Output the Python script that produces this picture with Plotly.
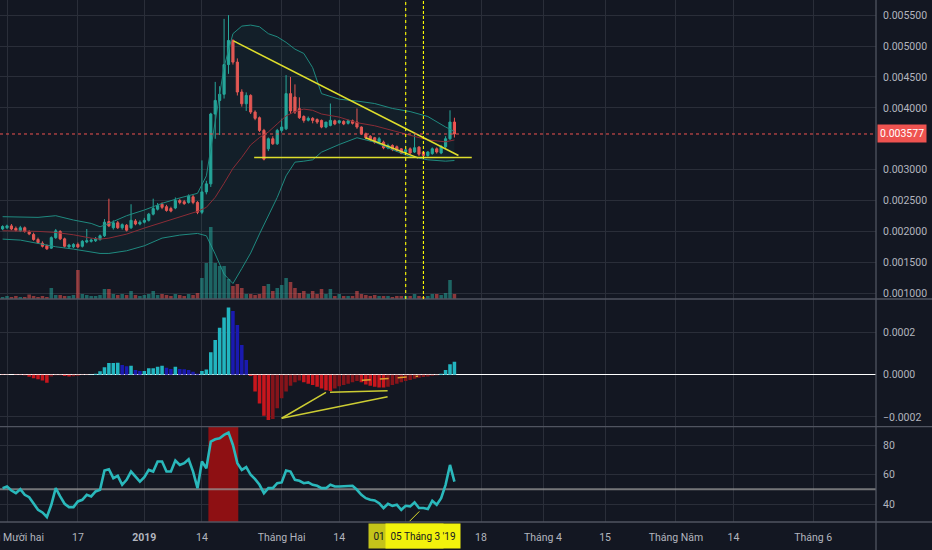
import pandas as pd
import plotly.graph_objects as go

# daily candles, 30 Nov 2018 .. 12 Mar 2019
start_day = "2018-11-30"
open_ = [0.00204, 0.00206, 0.00209, 0.00205, 0.00201, 0.00206, 0.00199, 0.00195, 0.00187, 0.00181,
         0.00177, 0.00173, 0.00190, 0.00200, 0.00188, 0.00175, 0.00175, 0.00179, 0.00176, 0.00183,
         0.00184, 0.00185, 0.00187, 0.00193, 0.00216, 0.00206, 0.00214, 0.00206, 0.00210, 0.00206,
         0.00217, 0.00212, 0.00215, 0.00218, 0.00228, 0.00236, 0.00244, 0.00240, 0.00237, 0.00238,
         0.00250, 0.00248, 0.00247, 0.00256, 0.00247, 0.00231, 0.00264, 0.00277, 0.00390, 0.00412,
         0.00422, 0.00470, 0.00509, 0.00474, 0.004256, 0.004066, 0.004201, 0.003932, 0.00384, 0.003635,
         0.003337, 0.0035, 0.003418, 0.003635, 0.00366, 0.00423, 0.004175, 0.003986, 0.00386, 0.0038,
         0.00383, 0.00381, 0.003797, 0.003689, 0.003716, 0.00379, 0.00376, 0.00378, 0.00375, 0.00379,
         0.00377, 0.003689, 0.003581, 0.00354, 0.003516, 0.003445, 0.003445, 0.003354, 0.003391, 0.00337,
         0.003337, 0.003285, 0.003337, 0.003285, 0.003365, 0.003285, 0.003229, 0.00326, 0.003337, 0.00327,
         0.00337, 0.0035, 0.00377]
high = [0.0021, 0.00211, 0.00212, 0.00208, 0.00209, 0.00208, 0.00202, 0.00198, 0.0019, 0.00184,
        0.00179, 0.00192, 0.00204, 0.00202, 0.0019, 0.0018, 0.00181, 0.00182, 0.00186, 0.00204,
        0.00189, 0.00191, 0.00195, 0.0022, 0.00253, 0.00218, 0.00217, 0.00213, 0.00212, 0.00244,
        0.0022, 0.00218, 0.00222, 0.0023, 0.00253, 0.00246, 0.00247, 0.00243, 0.0024, 0.00255,
        0.00253, 0.00251, 0.0026, 0.00259, 0.00249, 0.00315, 0.00282, 0.00392, 0.00442, 0.00435,
        0.00544, 0.0055, 0.00511, 0.0048, 0.0043, 0.00425, 0.00422, 0.00396, 0.00386, 0.00366,
        0.00352, 0.00354, 0.00366, 0.003825, 0.00453, 0.0045, 0.00438, 0.00417, 0.00388, 0.00386,
        0.00385, 0.00383, 0.00381, 0.00376, 0.00407, 0.00381, 0.0038, 0.0038, 0.00381, 0.00381,
        0.00399, 0.0037, 0.0036, 0.00356, 0.00353, 0.00353, 0.00347, 0.00342, 0.00341, 0.00339,
        0.00335, 0.00334, 0.00336, 0.00358, 0.00338, 0.0033, 0.0033, 0.00336, 0.00336, 0.0034,
        0.00354, 0.00396, 0.00384]
low = [0.00202, 0.00204, 0.00202, 0.002, 0.00199, 0.00198, 0.00194, 0.00185, 0.0018, 0.00174,
       0.0017, 0.00172, 0.00188, 0.00186, 0.00174, 0.00172, 0.00173, 0.00173, 0.00174, 0.00181,
       0.00182, 0.00183, 0.00185, 0.00191, 0.00207, 0.00203, 0.00204, 0.00203, 0.002, 0.00204,
       0.0021, 0.0021, 0.00213, 0.00216, 0.00226, 0.00234, 0.00236, 0.00232, 0.00231, 0.00236,
       0.00244, 0.00243, 0.00245, 0.00244, 0.00228, 0.00228, 0.0026, 0.00272, 0.0035, 0.00356,
       0.00415, 0.00455, 0.0047, 0.0042, 0.00402, 0.00395, 0.0039, 0.0038, 0.00361, 0.00315,
       0.0033, 0.0034, 0.0034, 0.0036, 0.00364, 0.0039, 0.0039, 0.00382, 0.00376, 0.00378,
       0.00375, 0.00374, 0.00367, 0.00367, 0.0037, 0.00372, 0.00374, 0.00372, 0.00373, 0.00373,
       0.00366, 0.00356, 0.00349, 0.00346, 0.00342, 0.00342, 0.00333, 0.00333, 0.0033, 0.00329,
       0.00325, 0.00326, 0.00325, 0.00327, 0.00322, 0.0032, 0.00321, 0.00324, 0.00326, 0.00325,
       0.00335, 0.00348, 0.00352]
close = [0.00208, 0.00209, 0.00204, 0.00202, 0.00206, 0.002, 0.00196, 0.00187, 0.00182, 0.00176,
         0.00172, 0.0019, 0.00201, 0.00188, 0.00176, 0.00178, 0.00179, 0.00175, 0.00184, 0.00185,
         0.00186, 0.00188, 0.00193, 0.00215, 0.00209, 0.00214, 0.00206, 0.00211, 0.00202, 0.00218,
         0.00212, 0.00215, 0.00218, 0.00228, 0.00237, 0.00242, 0.00239, 0.00234, 0.00233, 0.0025,
         0.00247, 0.00245, 0.00257, 0.00247, 0.00231, 0.00264, 0.00277, 0.0039, 0.00412, 0.00422,
         0.0047, 0.00509, 0.00474, 0.004256, 0.004066, 0.004201, 0.003932, 0.00383, 0.003635, 0.00317,
         0.0035, 0.003418, 0.003635, 0.003689, 0.00423, 0.00395, 0.003932, 0.003841, 0.003797, 0.00383,
         0.003797, 0.00377, 0.003689, 0.00377, 0.003797, 0.00374, 0.00379, 0.00374, 0.00379, 0.00375,
         0.003689, 0.003581, 0.003516, 0.00349, 0.003445, 0.0035, 0.003354, 0.003391, 0.003325, 0.00331,
         0.003266, 0.00332, 0.00327, 0.003354, 0.00325, 0.003229, 0.003285, 0.003337, 0.003285, 0.00337,
         0.0035, 0.00377, 0.003577]
volume = [20, 30, 20, 30, 20, 20, 45, 30, 20, 30,
          20, 110, 40, 40, 30, 30, 40, 290, 50, 40,
          30, 30, 40, 100, 100, 50, 40, 50, 40, 80,
          40, 30, 40, 50, 80, 40, 50, 40, 30, 50,
          40, 30, 50, 40, 60, 210, 360, 720, 360, 330,
          330, 200, 130, 150, 110, 50, 50, 40, 50, 130,
          150, 80, 110, 140, 210, 170, 110, 60, 80, 50,
          80, 50, 100, 50, 100, 30, 50, 30, 30, 30,
          80, 50, 40, 30, 40, 30, 30, 30, 20, 30,
          30, 30, 30, 50, 30, 20, 30, 50, 50, 40,
          60, 190, 50]

# bollinger bands (20, 2), read every few days
band_idx = [0, 4, 8, 12, 16, 20, 22, 24, 28, 32, 36, 40, 44, 46, 48, 50, 52, 54, 56, 58,
            60, 62, 64, 66, 68, 70, 72, 76, 80, 84, 88, 92, 96, 100, 102]
bb_upper = [0.002239, 0.002239, 0.002228, 0.002255, 0.002185, 0.00213, 0.002076, 0.00213, 0.002255, 0.002347,
            0.002455, 0.002542, 0.002617, 0.0029, 0.0038, 0.00466, 0.0052, 0.005323, 0.005339, 0.005312,
            0.0052, 0.00515, 0.00506, 0.00495, 0.00488, 0.00465, 0.00423, 0.00414, 0.00411, 0.00407,
            0.00399, 0.00394, 0.00386, 0.00369, 0.00362]
bb_basis = [0.002011, 0.002011, 0.002001, 0.001984, 0.001946, 0.001892, 0.001876, 0.001892, 0.001957, 0.002055,
            0.002147, 0.002239, 0.002325, 0.00239, 0.002553, 0.00278, 0.00302, 0.0032, 0.0034, 0.00352,
            0.00361, 0.00374, 0.00387, 0.00394, 0.00398, 0.00396, 0.0039, 0.00385, 0.00376, 0.00371,
            0.00363, 0.00356, 0.00348, 0.00345, 0.00348]
bb_lower = [0.001876, 0.00186, 0.001806, 0.001752, 0.001714, 0.00166, 0.001644, 0.001644, 0.001687, 0.001768,
            0.001892, 0.001941, 0.001968, 0.00193, 0.001633, 0.001308, 0.001157, 0.0014, 0.00165, 0.00196,
            0.00225, 0.00255, 0.0029, 0.003121, 0.003137, 0.003159, 0.003283, 0.003407, 0.003516, 0.003445,
            0.003321, 0.003213, 0.003159, 0.003137, 0.003148]

# MACD histogram
macd_hist = [-2e-6, -1e-6, 0, -1e-6, -2e-6, -3e-6, -9.5e-6, -17e-6, -22e-6, -28e-6,
             -38e-6, -8e-6, -3e-6, -3e-6, -6e-6, -8e-6, -7e-6, -5e-6, -2e-6, -1e-6,
             1e-6, 5e-6, 16e-6, 35e-6, 55e-6, 55.5e-6, 56e-6, 46e-6, 40e-6, 42e-6,
             22e-6, 17e-6, 17e-6, 30e-6, 31e-6, 38e-6, 42e-6, 33e-6, 27e-6, 38e-6,
             27e-6, 26e-6, 22e-6, 14e-6, 5e-6, 17e-6, 24e-6, 106e-6, 164e-6, 222e-6,
             270e-6, 318e-6, 301e-6, 235e-6, 140e-6, 69e-6, -6e-6, -80e-6, -136e-6, -194e-6,
             -214e-6, -210e-6, -159e-6, -112e-6, -80e-6, -52e-6, -36e-6, -27e-6, -36e-6, -43e-6,
             -49e-6, -57e-6, -65e-6, -74e-6, -77e-6, -65e-6, -55e-6, -49e-6, -43e-6, -36e-6,
             -30e-6, -36e-6, -46e-6, -52e-6, -57e-6, -60e-6, -61e-6, -57e-6, -49e-6, -43e-6,
             -36e-6, -30e-6, -25e-6, -19e-6, -14e-6, -11e-6, -8e-6, -5e-6, -3e-6, 5e-6,
             22e-6, 49e-6, 61e-6]

# RSI
rsi = [50.8, 51.9, 49.2, 47.4, 50.1, 46.3, 44.7, 40.6, 36.1, 34.3,
       31.2, 39.5, 50.8, 45.2, 40.2, 37.9, 37.9, 41.8, 42.9, 46.3,
       45.2, 48.6, 49.7, 62.8, 63.7, 57.6, 59.2, 53.1, 56.5, 62.1,
       58.7, 55.3, 58.3, 63.2, 62.1, 68.9, 68.9, 62.1, 62.1, 69.6,
       66.6, 67.8, 70.5, 62.1, 50.8, 68.9, 64.4, 82.5, 84.0, 84.7,
       87.0, 88.6, 80.2, 67.8, 63.2, 65.1, 59.9, 56.9, 53.1, 47.4,
       50.8, 50.8, 54.2, 54.7, 62.8, 62.1, 56.5, 55.8, 54.2, 54.7,
       53.1, 52.4, 50.8, 50.8, 53.1, 51.9, 51.9, 51.9, 51.9, 52.4,
       49.7, 46.3, 44.0, 42.9, 42.5, 40.6, 37.3, 40.2, 38.8, 39.5,
       36.1, 38.8, 38.4, 41.1, 37.3, 37.3, 36.6, 42.2, 39.5, 44.0,
       53.1, 66.6, 55.3]
rsi_mid = 50
overbought_from = "2019-01-15 11:00"
overbought_to = "2019-01-22 05:00"

# drawings (yellow lines)
tri_top = (["2019-01-21 03:00", "2019-03-12 22:00"], [0.005084, 0.003229])
tri_base = (["2019-01-25 19:00", "2019-03-15 22:00"], [0.003196, 0.003196])
wedge_low = (["2019-02-19 22:00", "2019-03-03 19:00"], [0.003516, 0.003191])
macd_lines = [
    (["2019-02-01 00:00", "2019-02-11 00:00"], [-0.000206, -0.0000832]),
    (["2019-02-01 00:00", "2019-02-24 22:00"], [-0.000206, -0.000104]),
    (["2019-02-11 22:00", "2019-02-24 22:00"], [-0.0000832, -0.0000757]),
]
macd_dash = (["2019-02-19 02:00", "2019-03-03 19:00"], [-0.0000265, -0.0000076])
rsi_pointer = (["2019-03-01 20:00", "2019-03-04 02:00"], [28.2, 35.0])
marked_days = ["2019-03-01", "2019-03-05"]

# axis ticks
x_range = ["2018-11-29 10:00", "2019-06-15 04:00"]
x_ticks = ["2018-12-01", "2018-12-17", "2019-01-01", "2019-01-14", "2019-02-01", "2019-02-14",
           "2019-03-01", "2019-03-18", "2019-04-01", "2019-04-15", "2019-05-01", "2019-05-14",
           "2019-06-01"]
x_labels = ["", "17", "<b>2019</b>", "14", "Tháng Hai", "14", "", "18",
            "Tháng 4", "15", "Tháng Năm", "14", "Tháng 6"]
first_label = "Tháng Mười hai"  # sits on the left edge, half cut off
price_range = [0.000907, 0.005745]
price_ticks = [0.001, 0.0015, 0.002, 0.0025, 0.003, 0.004, 0.0045, 0.005, 0.0055]
macd_range = [-0.000246, 0.000358]
macd_ticks = [-0.0002, 0.0, 0.0002]
rsi_range = [27.8, 92.6]
rsi_ticks = [40, 60, 80]

dates = pd.date_range(start_day, periods=len(close), freq="D")
band_dates = [dates[i] for i in band_idx]

BG = "#131722"
GRID = "#2a2e39"
SEP = "#505460"
TXT = "#b2b5be"
UP = "#26a69a"
DOWN = "#ef5350"
YEL = "#dede2c"
FONT = "Roboto, sans-serif"
FS = 10.5

fig = go.Figure()

# bollinger
fig.add_trace(go.Scatter(x=band_dates, y=bb_upper, mode="lines", line=dict(color="#1f8a80", width=1),
                         yaxis="y", showlegend=False, hoverinfo="skip"))
fig.add_trace(go.Scatter(x=band_dates, y=bb_lower, mode="lines", line=dict(color="#1f8a80", width=1),
                         fill="tonexty", fillcolor="rgba(38,166,154,0.06)",
                         yaxis="y", showlegend=False, hoverinfo="skip"))
fig.add_trace(go.Scatter(x=band_dates, y=bb_basis, mode="lines", line=dict(color="#8a2c36", width=1),
                         yaxis="y", showlegend=False, hoverinfo="skip"))

# volume
vol_col = ["rgba(38,166,154,0.55)" if c >= o else "rgba(239,83,80,0.55)" for o, c in zip(open_, close)]
fig.add_trace(go.Bar(x=dates, y=volume, marker=dict(color=vol_col, line=dict(width=0)),
                     width=0.8 * 86400000, yaxis="y4", showlegend=False, hoverinfo="skip"))

# candles
fig.add_trace(go.Candlestick(x=dates, open=open_, high=high, low=low, close=close,
                             increasing=dict(line=dict(color=UP, width=1), fillcolor=UP),
                             decreasing=dict(line=dict(color=DOWN, width=1), fillcolor=DOWN),
                             yaxis="y", showlegend=False, hoverinfo="skip"))

for xs, ys in [tri_top, tri_base, wedge_low]:
    fig.add_trace(go.Scatter(x=xs, y=ys, mode="lines", line=dict(color=YEL, width=1.5),
                             yaxis="y", showlegend=False, hoverinfo="skip"))

# macd histogram colours
hist_col = []
prev = 0
for v in macd_hist:
    if v >= 0:
        hist_col.append("#22b5c0" if v >= prev else "#1a1ab0")
    else:
        hist_col.append("#c8161d" if v < prev else "#86141a")
    prev = v
fig.add_trace(go.Bar(x=dates, y=macd_hist, marker=dict(color=hist_col, line=dict(width=0)),
                     width=0.8 * 86400000, yaxis="y2", showlegend=False, hoverinfo="skip"))
for xs, ys in macd_lines:
    fig.add_trace(go.Scatter(x=xs, y=ys, mode="lines", line=dict(color="#cccc33", width=1.5),
                             yaxis="y2", showlegend=False, hoverinfo="skip"))
fig.add_trace(go.Scatter(x=macd_dash[0], y=macd_dash[1], mode="lines",
                         line=dict(color="#e0a030", width=1.5, dash="dash"),
                         yaxis="y2", showlegend=False, hoverinfo="skip"))

# rsi
fig.add_trace(go.Scatter(x=dates, y=rsi, mode="lines", line=dict(color="#2ab8bb", width=2.6),
                         yaxis="y3", showlegend=False, hoverinfo="skip"))
fig.add_trace(go.Scatter(x=rsi_pointer[0], y=rsi_pointer[1], mode="lines",
                         line=dict(color=YEL, width=1), yaxis="y3", showlegend=False,
                         hoverinfo="skip", cliponaxis=False))

H, W, MR, MB = 550, 932, 56, 28
ph = H - MB
d_main = (ph - 299) / ph
d_macd = (ph - 426.7) / ph
xr = W / (W - MR)

shapes = [
    dict(type="line", xref="paper", yref="paper", x0=0, x1=xr, y0=d_main, y1=d_main,
         line=dict(color=SEP, width=1.3)),
    dict(type="line", xref="paper", yref="paper", x0=0, x1=xr, y0=d_macd, y1=d_macd,
         line=dict(color=SEP, width=1.3)),
    dict(type="line", xref="paper", yref="paper", x0=0, x1=xr, y0=0, y1=0,
         line=dict(color=SEP, width=1.3)),
    dict(type="line", xref="paper", yref="paper", x0=1, x1=1, y0=-MB / ph, y1=1,
         line=dict(color=SEP, width=1.3)),
    dict(type="line", xref="paper", yref="y", x0=0, x1=1, y0=close[-1], y1=close[-1],
         line=dict(color=DOWN, width=1, dash="dot")),
    dict(type="rect", xref="x", yref="y3", x0=overbought_from, x1=overbought_to,
         y0=rsi_range[0], y1=rsi_range[1],
         fillcolor="#8e1013", line=dict(width=0), layer="between"),
    dict(type="line", xref="x", yref="y3", x0=x_range[0], x1=x_range[1], y0=rsi_mid, y1=rsi_mid,
         line=dict(color="rgba(150,150,150,0.75)", width=2), layer="between"),
    dict(type="line", xref="x", yref="y domain", x0=marked_days[0], x1=marked_days[0], y0=0, y1=1,
         line=dict(color="#ffff00", width=1.1, dash="dot")),
    dict(type="line", xref="x", yref="y domain", x0=marked_days[1], x1=marked_days[1], y0=0, y1=1,
         line=dict(color="#ffff00", width=1.1, dash="3px,2px")),
]

lab_y = -13.5 / ph
annotations = [
    dict(xref="paper", x=1, xanchor="left", yref="y", y=close[-1], text=f"{close[-1]:.6f}",
         showarrow=False, bgcolor=DOWN, font=dict(color="white", size=FS, family=FONT),
         borderpad=2, xshift=1),
    dict(xref="x", x=x_ticks[0], xanchor="center", yref="paper", y=-15 / ph, yanchor="middle",
         text=first_label, showarrow=False, font=dict(color=TXT, size=FS, family=FONT)),
    dict(xref="x", x=marked_days[0], yref="paper", y=lab_y, yanchor="middle",
         text="01 Tháng 3 '19", showarrow=False,
         bgcolor="#c4c41a", font=dict(color="#131722", size=10, family=FONT),
         width=66, height=16, borderpad=4),
    dict(xref="x", x=marked_days[1], yref="paper", y=lab_y, yanchor="middle",
         text="05 Tháng 3 '19", showarrow=False,
         bgcolor="#f2f20c", font=dict(color="#131722", size=10, family=FONT),
         width=66, height=16, borderpad=4),
]

yax = dict(side="right", showgrid=True, gridcolor=GRID, zeroline=False, ticks="",
           tickfont=dict(color=TXT, size=FS, family=FONT), showline=False, fixedrange=True,
           automargin=False)

fig.update_layout(
    width=W, height=H,
    margin=dict(l=0, r=MR, t=0, b=MB, autoexpand=False),
    paper_bgcolor=BG, plot_bgcolor=BG,
    barmode="overlay",
    showlegend=False,
    font=dict(family=FONT, color=TXT, size=FS),
    xaxis=dict(type="date", range=x_range, autorange=False, domain=[0, 1], automargin=False,
               anchor="y3", tickmode="array", tickvals=x_ticks, ticktext=x_labels,
               showgrid=True, gridcolor=GRID, zeroline=False, ticks="", ticklabelstandoff=7,
               rangeslider=dict(visible=False), tickfont=dict(color=TXT, size=FS, family=FONT),
               showline=False, fixedrange=True),
    yaxis=dict(yax, domain=[d_main, 1], range=price_range, anchor="x",
               tickmode="array", tickvals=price_ticks,
               ticktext=[f"{v:.6f}" for v in price_ticks], ticklabelstandoff=6),
    yaxis4=dict(overlaying="y", range=[0, 2990], visible=False, showgrid=False),
    yaxis2=dict(yax, domain=[d_macd, d_main], range=macd_range, anchor="x",
                tickmode="array", tickvals=macd_ticks,
                ticktext=["\u22120.0002", "0.0000", "0.0002"], ticklabelstandoff=6,
                zeroline=True, zerolinecolor="#ffffff", zerolinewidth=1.5),
    yaxis3=dict(yax, domain=[0, d_macd], range=rsi_range, anchor="x",
                tickmode="array", tickvals=rsi_ticks, ticktext=[str(t) for t in rsi_ticks],
                ticklabelstandoff=6),
    shapes=shapes,
    annotations=annotations,
)

# page body has an 8px default margin; drop it so the chart sits at the corner
fig.write_html("out.html", config={"displayModeBar": False, "staticPlot": True},
               post_script="document.body.style.margin='0';")
